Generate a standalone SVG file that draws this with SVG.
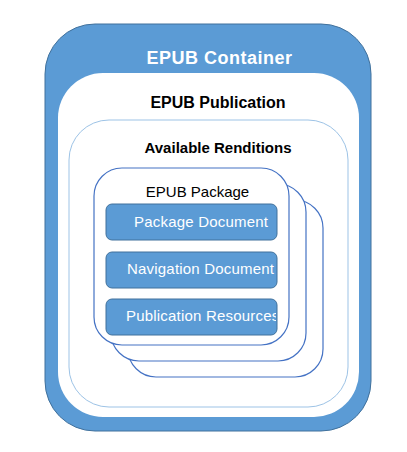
<svg xmlns="http://www.w3.org/2000/svg" width="407" height="452" viewBox="0 0 407 452">
  <style>
    .title { font-family: "Liberation Sans", Arial, sans-serif; font-weight: bold; text-anchor: middle; }
    .pkg { fill: #ffffff; stroke: #4472c4; stroke-width: 1.2; }
    .doc { fill: #5b9bd5; stroke: #41719c; stroke-width: 1; }
    .doc-label { font-family: "Liberation Sans", Arial, sans-serif; font-size: 15px; letter-spacing: 0.2px; fill: #ffffff; }
  </style>
  <defs>
    <clipPath id="clip-doc1"><rect x="106" y="204" width="170" height="36"/></clipPath>
    <clipPath id="clip-doc2"><rect x="106" y="252" width="170" height="36"/></clipPath>
    <clipPath id="clip-doc3"><rect x="106" y="299" width="170" height="36"/></clipPath>
  </defs>
  <rect width="407" height="452" fill="#ffffff"/>

  <!-- outer container -->
  <g id="epub-container">
    <rect x="45" y="24" width="326" height="407" rx="50" ry="50" fill="#5b9bd5" stroke="#41719c" stroke-width="1"/>
    <text class="title" x="219.5" y="64" font-size="18" letter-spacing="0.5" fill="#ffffff">EPUB Container</text>
  </g>

  <!-- publication -->
  <g id="epub-publication">
    <rect x="58" y="73" width="301" height="344" rx="45" ry="45" fill="#ffffff"/>
    <text class="title" x="218" y="108" font-size="16" fill="#000000">EPUB Publication</text>
  </g>

  <!-- renditions -->
  <g id="available-renditions">
    <rect x="69" y="120" width="279" height="287" rx="40" ry="40" fill="#ffffff" stroke="#9dc3e6" stroke-width="1"/>
    <text class="title" x="218" y="153" font-size="15" fill="#000000">Available Renditions</text>
  </g>

  <!-- stacked packages, back to front -->
  <g id="epub-package-3">
    <rect class="pkg" x="128" y="200" width="195" height="177" rx="28" ry="28"/>
  </g>
  <g id="epub-package-2">
    <rect class="pkg" x="111" y="184" width="195" height="177" rx="28" ry="28"/>
  </g>
  <g id="epub-package">
    <rect class="pkg" x="94" y="168" width="195" height="177" rx="28" ry="28"/>
    <text x="197.5" y="197" font-family="Liberation Sans, Arial, sans-serif" font-size="15" text-anchor="middle" fill="#000000">EPUB Package</text>
  </g>

  <g id="package-document">
    <rect class="doc" x="106" y="204" width="171" height="36" rx="6" ry="6"/>
    <text class="doc-label" x="134" y="227" clip-path="url(#clip-doc1)">Package Document</text>
  </g>
  <g id="navigation-document">
    <rect class="doc" x="106" y="252" width="171" height="36" rx="6" ry="6"/>
    <text class="doc-label" x="127" y="274" clip-path="url(#clip-doc2)">Navigation Document</text>
  </g>
  <g id="publication-resources">
    <rect class="doc" x="106" y="299" width="171" height="36" rx="6" ry="6"/>
    <text class="doc-label" x="126" y="321" clip-path="url(#clip-doc3)">Publication Resources</text>
  </g>

  <g id="connectors"/>
</svg>
